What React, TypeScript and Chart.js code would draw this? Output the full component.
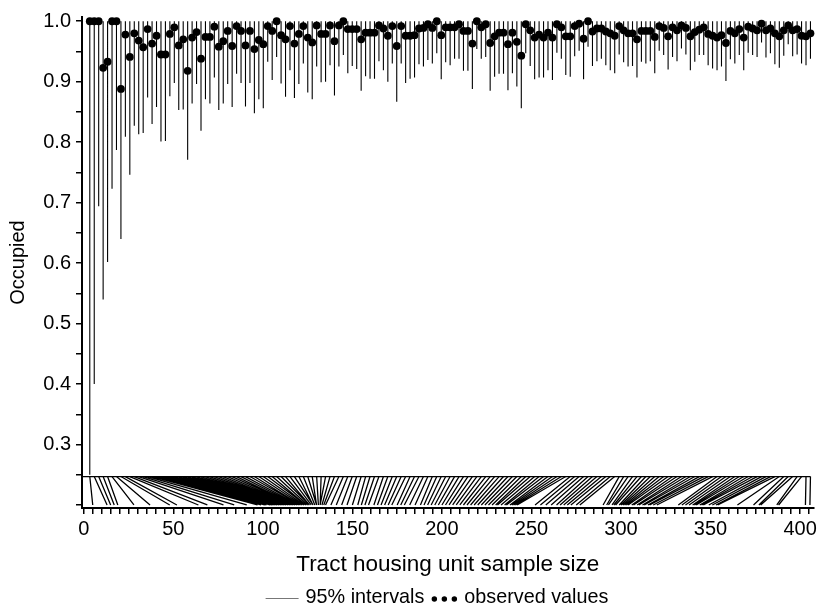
import React, { useEffect, useRef } from 'react';
import { Chart, registerables } from 'chart.js';
Chart.register(...registerables);

const FONT = '"Liberation Sans", Arial, Helvetica, sans-serif';

// observed proportion occupied per tract (ordered by sample size)
const observed = [
  1.0, 1.0, 1.0, 0.923, 0.933, 1.0, 1.0, 0.888, 0.978, 0.941,
  0.980, 0.968, 0.957, 0.987, 0.963, 0.976, 0.945, 0.945, 0.979, 0.990,
  0.960, 0.970, 0.918, 0.973, 0.982, 0.938, 0.974, 0.974, 0.991, 0.958,
  0.967, 0.984, 0.959, 0.992, 0.984, 0.960, 0.984, 0.954, 0.969, 0.962,
  0.992, 0.984, 1.0, 0.977, 0.970, 0.992, 0.963, 0.979, 0.992, 0.973,
  0.965, 0.993, 0.979, 0.979, 0.993, 0.967, 0.993, 1.0, 0.987, 0.987,
  0.987, 0.970, 0.981, 0.981, 0.981, 0.993, 0.988, 0.976, 0.992, 0.959,
  0.992, 0.976, 0.976, 0.977, 0.988, 0.989, 0.995, 0.989, 1.0, 0.977,
  0.990, 0.990, 0.990, 0.995, 0.984, 0.984, 0.963, 1.0, 0.990, 0.995,
  0.964, 0.975, 0.981, 0.981, 0.962, 0.981, 0.966, 0.943, 0.995, 0.985,
  0.973, 0.978, 0.973, 0.981, 0.973, 0.995, 0.990, 0.975, 0.975, 0.992,
  0.996, 0.971, 1.0, 0.983, 0.988, 0.988, 0.983, 0.980, 0.976, 0.992,
  0.985, 0.980, 0.980, 0.970, 0.984, 0.984, 0.984, 0.974, 0.992, 0.989,
  0.975, 0.990, 0.985, 0.993, 0.989, 0.975, 0.982, 0.986, 0.990, 0.979,
  0.976, 0.973, 0.977, 0.964, 0.984, 0.980, 0.987, 0.973, 0.991, 0.988,
  0.985, 0.996, 0.985, 0.988, 0.980, 0.975, 0.985, 0.993, 0.985, 0.987,
  0.976, 0.975, 0.980,
];

// lower end of the 95% interval
const lowerBound = [
  0.25, 0.40, 0.694, 0.54, 0.602, 0.723, 0.787, 0.640, 0.809, 0.746,
  0.827, 0.813, 0.815, 0.874, 0.830, 0.858, 0.801, 0.802, 0.876, 0.898,
  0.853, 0.854, 0.771, 0.864, 0.896, 0.819, 0.871, 0.864, 0.907, 0.853,
  0.864, 0.896, 0.858, 0.913, 0.898, 0.859, 0.898, 0.848, 0.871, 0.856,
  0.933, 0.903, 0.941, 0.897, 0.875, 0.919, 0.873, 0.896, 0.930, 0.882,
  0.871, 0.925, 0.899, 0.900, 0.927, 0.877, 0.925, 0.944, 0.914, 0.926,
  0.921, 0.885, 0.909, 0.905, 0.905, 0.934, 0.919, 0.900, 0.930, 0.867,
  0.930, 0.898, 0.905, 0.907, 0.929, 0.925, 0.936, 0.930, 0.947, 0.904,
  0.932, 0.927, 0.938, 0.938, 0.918, 0.918, 0.888, 0.954, 0.938, 0.941,
  0.885, 0.908, 0.913, 0.913, 0.886, 0.914, 0.892, 0.856, 0.947, 0.926,
  0.904, 0.907, 0.907, 0.919, 0.903, 0.948, 0.938, 0.911, 0.908, 0.942,
  0.951, 0.904, 0.958, 0.926, 0.934, 0.938, 0.927, 0.919, 0.914, 0.945,
  0.932, 0.925, 0.926, 0.907, 0.933, 0.930, 0.934, 0.914, 0.951, 0.944,
  0.920, 0.941, 0.934, 0.955, 0.945, 0.919, 0.933, 0.944, 0.944, 0.927,
  0.922, 0.919, 0.925, 0.901, 0.937, 0.930, 0.944, 0.919, 0.948, 0.944,
  0.941, 0.965, 0.940, 0.947, 0.929, 0.923, 0.943, 0.962, 0.942, 0.945,
  0.930, 0.927, 0.938,
];

// upper end of every interval
const upperBound = 1.0;

// tract housing unit sample size (sorted)
const sampleSize = [
  5, 13, 15, 17, 19, 28, 37, 48, 52, 64,
  69, 78, 84, 91, 97, 99, 101, 102, 104, 105,
  106, 107, 108, 109, 110, 111, 112, 113, 114, 115,
  116, 117, 118, 118, 119, 120, 121, 121, 122, 123,
  124, 124, 125, 126, 126, 127, 128, 128, 129, 130,
  130, 131, 132, 132, 133, 134, 135, 138, 141, 144,
  147, 150, 153, 155, 157, 159, 162, 164, 166, 168,
  170, 172, 175, 177, 179, 182, 185, 188, 190, 192,
  194, 196, 198, 200, 202, 204, 206, 208, 210, 212,
  214, 216, 218, 220, 222, 224, 226, 228, 230, 231,
  233, 235, 236, 238, 239, 240, 241, 242, 252, 255,
  258, 261, 264, 266, 268, 270, 272, 275, 277, 290,
  292, 293, 295, 296, 297, 299, 300, 301, 302, 303,
  304, 306, 307, 309, 310, 312, 313, 315, 316, 318,
  320, 332, 334, 336, 338, 340, 341, 342, 344, 345,
  346, 349, 351, 353, 354, 365, 374, 377, 378, 387,
  388, 403, 405.5,
];

const xTickLabels = ['0', '50', '100', '150', '200', '250', '300', '350', '400'];
const yTickLabels = ['0.3', '0.4', '0.5', '0.6', '0.7', '0.8', '0.9', '1.0'];

// evenly spaced display positions (rank order) and rug levels
const POS_FIRST = 3.35;
const POS_LAST = 405.8;
const RUG_TOP = 0.247;
const RUG_BOTTOM = 0.2;

const legendPlugin = {
  id: 'customLegend',
  afterDraw(chart: any) {
    const ctx = chart.ctx as CanvasRenderingContext2D;
    ctx.save();
    ctx.font = `19.8px ${FONT}`;
    const t1 = '95% intervals';
    const t2 = 'observed values';
    const w1 = ctx.measureText(t1).width;
    const w2 = ctx.measureText(t2).width;
    const lineW = 33, gap = 7, dotsW = 26;
    const total = lineW + gap + w1 + gap + dotsW + gap + w2;
    let x = 437 - total / 2;
    const y = 598;
    ctx.strokeStyle = '#777';
    ctx.lineWidth = 1.2;
    ctx.beginPath();
    ctx.moveTo(x, y + 0.5);
    ctx.lineTo(x + lineW, y + 0.5);
    ctx.stroke();
    x += lineW + gap;
    ctx.fillStyle = '#000';
    ctx.textBaseline = 'middle';
    ctx.textAlign = 'left';
    ctx.fillText(t1, x, y);
    x += w1 + gap;
    for (let k = 0; k < 3; k++) {
      ctx.beginPath();
      ctx.arc(x + 3 + k * 10, y + 1, 2.7, 0, Math.PI * 2);
      ctx.fill();
    }
    x += dotsW + gap;
    ctx.fillText(t2, x, y);
    ctx.restore();
  },
};

export default function App() {
  const ref = useRef<HTMLCanvasElement>(null);
  useEffect(() => {
    if (!ref.current) return;
    const n = observed.length;
    const pos = observed.map((_, i) => POS_FIRST + (i * (POS_LAST - POS_FIRST)) / (n - 1));

    const intervalData: any[] = [];
    pos.forEach((p, i) => {
      intervalData.push({ x: p, y: lowerBound[i] });
      intervalData.push({ x: p, y: upperBound });
      intervalData.push({ x: p, y: null });
    });
    const fanData: any[] = [];
    pos.forEach((p, i) => {
      fanData.push({ x: p, y: RUG_TOP });
      fanData.push({ x: sampleSize[i], y: RUG_BOTTOM });
      fanData.push({ x: p, y: null });
    });
    const pointData = pos.map((p, i) => ({ x: p, y: observed[i] }));

    const chart = new Chart(ref.current, {
      type: 'scatter',
      data: {
        datasets: [
          {
            label: '95% intervals',
            data: intervalData,
            showLine: true,
            spanGaps: false,
            borderColor: '#000',
            borderWidth: 1.1,
            pointRadius: 0,
            order: 3,
          } as any,
          {
            label: 'rug',
            data: fanData,
            showLine: true,
            spanGaps: false,
            borderColor: '#000',
            borderWidth: 1.3,
            pointRadius: 0,
            order: 4,
          } as any,
          {
            label: 'rug base',
            data: [
              { x: -1, y: RUG_TOP },
              { x: POS_LAST, y: RUG_TOP },
            ],
            showLine: true,
            borderColor: '#000',
            borderWidth: 1.2,
            pointRadius: 0,
            order: 5,
          } as any,
          {
            label: 'observed values',
            data: pointData,
            backgroundColor: '#000',
            borderWidth: 0,
            pointRadius: 3.9,
            clip: false,
            order: 1,
          } as any,
        ],
      },
      options: {
        animation: false,
        responsive: false,
        layout: { padding: { top: 15, right: 6.5, bottom: 0, left: 0 } },
        plugins: { legend: { display: false }, tooltip: { enabled: false } },
        scales: {
          x: {
            type: 'linear',
            min: -1,
            max: 407.5,
            afterFit: (s: any) => {
              s.height = 104;
            },
            border: { display: true, color: '#000', width: 2 },
            grid: { drawOnChartArea: false, drawTicks: true, tickLength: 6, color: '#000', lineWidth: 1.5 },
            ticks: {
              stepSize: 5,
              includeBounds: false,
              autoSkip: false,
              maxRotation: 0,
              padding: 3,
              color: '#000',
              font: { family: FONT, size: 20 },
              callback: (v: any) => {
                const idx = xTickLabels.indexOf(String(v));
                return idx >= 0 ? xTickLabels[idx] : '';
              },
            },
            title: {
              display: true,
              text: 'Tract housing unit sample size',
              color: '#000',
              font: { family: FONT, size: 22.5 },
              padding: { top: 0, bottom: 34 },
            },
          },
          y: {
            type: 'linear',
            min: 0.195,
            max: 1.007,
            afterFit: (s: any) => {
              s.width = 82;
            },
            border: { display: true, color: '#000', width: 2 },
            grid: { drawOnChartArea: false, drawTicks: true, tickLength: 6, color: '#000', lineWidth: 1.5 },
            ticks: {
              stepSize: 0.05,
              includeBounds: false,
              autoSkip: false,
              padding: 5,
              color: '#000',
              font: { family: FONT, size: 20 },
              callback: (v: any) => {
                const s = Number(v).toFixed(1);
                const isTenth = Math.abs(Number(v) * 10 - Math.round(Number(v) * 10)) < 1e-6;
                return isTenth && yTickLabels.includes(s) ? s : '';
              },
            },
            title: {
              display: true,
              text: 'Occupied',
              color: '#000',
              font: { family: FONT, size: 20 },
              padding: { top: 6, bottom: 0 },
            },
          },
        },
      },
      plugins: [legendPlugin],
    });
    return () => chart.destroy();
  }, []);

  return (
    <div style={{ position: 'fixed', left: 0, top: 0, width: 820, height: 612, background: '#fff' }}>
      <canvas ref={ref} width={820} height={612} style={{ width: 820, height: 612 }} />
    </div>
  );
}
